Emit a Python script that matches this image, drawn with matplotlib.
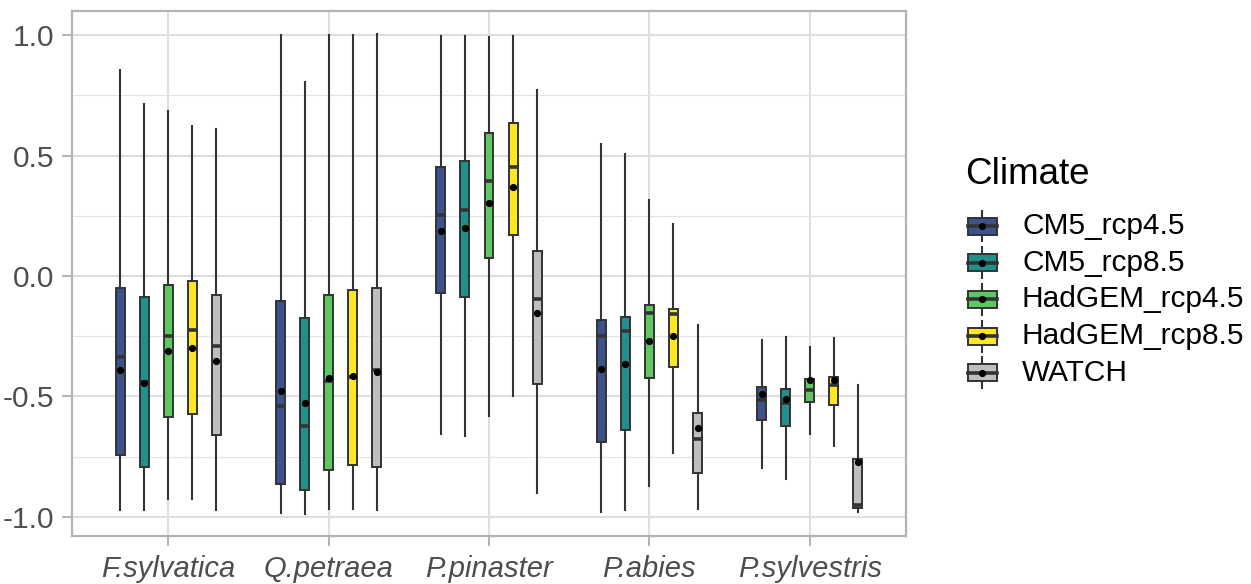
import matplotlib
matplotlib.use("Agg")
import matplotlib.pyplot as plt
from matplotlib.patches import Rectangle
from matplotlib.ticker import MultipleLocator

plt.rcParams['font.family'] = ['Liberation Sans', 'DejaVu Sans']

species = ["F.sylvatica", "Q.petraea", "P.pinaster", "P.abies", "P.sylvestris"]
climates = ["CM5_rcp4.5", "CM5_rcp8.5", "HadGEM_rcp4.5", "HadGEM_rcp8.5", "WATCH"]
colors = ["#3B528B", "#21908C", "#5DC863", "#FDE725", "#BEBEBE"]

# rows = climates, columns = species
whisker_high = [
    [0.855, 1.000, 0.995, 0.550, -0.267],
    [0.713, 0.805, 0.995, 0.507, -0.253],
    [0.683, 1.000, 0.993, 0.314, -0.295],
    [0.621, 1.000, 0.995, 0.215, -0.256],
    [0.609, 1.005, 0.771, -0.202, -0.451],
]
q3 = [
    [-0.049, -0.105, 0.451, -0.184, -0.462],
    [-0.089, -0.174, 0.476, -0.171, -0.470],
    [-0.037, -0.077, 0.594, -0.122, -0.427],
    [-0.021, -0.060, 0.634, -0.137, -0.418],
    [-0.077, -0.051, 0.104, -0.567, -0.758],
]
median = [
    [-0.335, -0.541, 0.252, -0.247, -0.513],
    [-0.440, -0.621, 0.275, -0.229, -0.527],
    [-0.250, -0.436, 0.393, -0.154, -0.474],
    [-0.222, -0.418, 0.451, -0.159, -0.454],
    [-0.290, -0.392, -0.096, -0.677, -0.952],
]
mean = [
    [-0.391, -0.479, 0.185, -0.386, -0.488],
    [-0.442, -0.525, 0.201, -0.365, -0.510],
    [-0.312, -0.425, 0.303, -0.269, -0.433],
    [-0.297, -0.413, 0.370, -0.250, -0.433],
    [-0.352, -0.399, -0.154, -0.629, -0.770],
]
q1 = [
    [-0.742, -0.865, -0.072, -0.689, -0.599],
    [-0.793, -0.890, -0.088, -0.638, -0.622],
    [-0.587, -0.803, 0.076, -0.425, -0.524],
    [-0.572, -0.786, 0.169, -0.378, -0.534],
    [-0.658, -0.791, -0.448, -0.816, -0.961],
]
whisker_low = [
    [-0.970, -0.983, -0.654, -0.978, -0.795],
    [-0.970, -0.986, -0.666, -0.972, -0.841],
    [-0.924, -0.966, -0.580, -0.873, -0.656],
    [-0.927, -0.968, -0.498, -0.734, -0.704],
    [-0.970, -0.970, -0.899, -0.969, -0.978],
]
ytick_values = [-1.0, -0.5, 0.0, 0.5, 1.0]
ytick_labels = ["-1.0", "-0.5", "0.0", "0.5", "1.0"]

W, H = 1251, 584
fig = plt.figure(figsize=(W / 100, H / 100), dpi=100)
ax = fig.add_axes([72 / W, 1 - 536 / H, (906 - 72) / W, (536 - 11) / H])

line_col = "#333333"
dodge = 0.15
box_w = 0.056
for j, clim in enumerate(climates):
    stats = []
    for i in range(len(species)):
        stats.append(dict(med=median[j][i], q1=q1[j][i], q3=q3[j][i],
                          whislo=whisker_low[j][i], whishi=whisker_high[j][i],
                          mean=mean[j][i], fliers=[]))
    pos = [i + 1 + (j - 2) * dodge for i in range(len(species))]
    ax.bxp(stats, positions=pos, widths=box_w, patch_artist=True,
           showmeans=True, showfliers=False, showcaps=False,
           boxprops=dict(facecolor=colors[j], edgecolor=line_col, linewidth=1.4),
           whiskerprops=dict(color=line_col, linewidth=1.5),
           medianprops=dict(color=line_col, linewidth=2.6),
           meanprops=dict(marker='o', markerfacecolor='black',
                          markeredgecolor='black', markersize=4.2),
           manage_ticks=False)

ax.set_xlim(0.4, 5.6)
ax.set_ylim(-1.079, 1.10)
ax.set_xticks(range(1, len(species) + 1))
ax.set_xticklabels(species, fontsize=21, style='italic', color='#4D4D4D')
ax.set_yticks(ytick_values)
ax.set_yticklabels(ytick_labels, fontsize=21.5, color='#4D4D4D')
ax.yaxis.set_minor_locator(MultipleLocator(0.25))
ax.tick_params(axis='both', which='major', color='#B3B3B3', length=7, width=1.4)
ax.tick_params(axis='y', which='major', pad=6)
ax.tick_params(axis='x', which='major', pad=6.5)
ax.tick_params(axis='y', which='minor', length=0)
ax.grid(True, which='major', color='#DEDEDE', linewidth=1.5)
ax.grid(True, which='minor', axis='y', color='#E4E4E4', linewidth=0.9)
ax.set_axisbelow(True)
for s in ax.spines.values():
    s.set_color('#B3B3B3')
    s.set_linewidth(1.6)

# legend drawn in figure pixel coordinates
lax = fig.add_axes([0, 0, 1, 1])
lax.set_xlim(0, W)
lax.set_ylim(H, 0)
lax.axis('off')
lax.text(965, 174, "Climate", fontsize=26.5, va='center', ha='left', color='black')
key_h = 36.7
for j, clim in enumerate(climates):
    cy = 226 + j * key_h
    cx = 982
    lax.plot([cx, cx], [cy - key_h * 0.42, cy + key_h * 0.42], color=line_col, lw=1.5, zorder=1)
    lax.add_patch(Rectangle((967.5, cy - 8.5), 29, 17, facecolor=colors[j],
                            edgecolor=line_col, lw=1.4, zorder=2))
    lax.plot([967.5, 996.5], [cy, cy], color=line_col, lw=2.6, zorder=3)
    lax.plot([cx], [cy], marker='o', color='black', ms=4.2, zorder=4)
    lax.text(1022, cy, clim, fontsize=21.5, va='center', ha='left', color='black')

fig.savefig("out.png", dpi=100)
